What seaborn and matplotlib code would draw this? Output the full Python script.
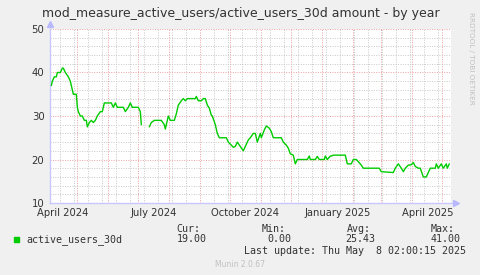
import numpy as np
import pandas as pd
import matplotlib
matplotlib.use("Agg")
import matplotlib.pyplot as plt
import matplotlib.dates as mdates
from matplotlib.ticker import MultipleLocator, FixedLocator
import matplotlib.transforms as mtransforms
import seaborn as sns

# ---------------- data ----------------
dates = [
    "2024-04-05", "2024-04-06", "2024-04-08", "2024-04-10", "2024-04-11", "2024-04-14",
    "2024-04-16", "2024-04-17", "2024-04-19", "2024-04-22", "2024-04-24", "2024-04-25",
    "2024-04-27", "2024-04-30", "2024-05-01", "2024-05-02", "2024-05-04", "2024-05-06",
    "2024-05-08", "2024-05-10", "2024-05-11", "2024-05-13", "2024-05-15", "2024-05-17",
    "2024-05-19", "2024-05-21", "2024-05-24", "2024-05-26", "2024-05-28", "2024-06-04",
    "2024-06-06", "2024-06-08", "2024-06-10", "2024-06-16", "2024-06-18", "2024-06-21",
    "2024-06-23", "2024-06-25", "2024-07-01", "2024-07-03", "2024-07-04", "2024-07-05",
    "2024-07-12", "2024-07-14", "2024-07-17", "2024-07-24", "2024-07-27", "2024-07-28",
    "2024-07-31", "2024-08-02", "2024-08-06", "2024-08-08", "2024-08-10", "2024-08-13",
    "2024-08-15", "2024-08-17", "2024-08-19", "2024-08-27", "2024-08-28", "2024-08-30",
    "2024-09-02", "2024-09-04", "2024-09-06", "2024-09-08", "2024-09-10", "2024-09-12",
    "2024-09-13", "2024-09-16", "2024-09-18", "2024-09-20", "2024-09-27", "2024-09-29",
    "2024-10-02", "2024-10-04", "2024-10-06", "2024-10-08", "2024-10-11", "2024-10-14",
    "2024-10-16", "2024-10-19", "2024-10-21", "2024-10-24", "2024-10-26", "2024-10-28",
    "2024-10-31", "2024-11-01", "2024-11-04", "2024-11-06", "2024-11-09", "2024-11-11",
    "2024-11-13", "2024-11-21", "2024-11-23", "2024-11-26", "2024-11-28", "2024-11-30",
    "2024-12-03", "2024-12-05", "2024-12-07", "2024-12-17", "2024-12-19", "2024-12-20",
    "2024-12-25", "2024-12-27", "2024-12-29", "2025-01-03", "2025-01-04", "2025-01-06",
    "2025-01-09", "2025-01-10", "2025-01-12", "2025-01-24", "2025-01-26", "2025-01-30",
    "2025-02-01", "2025-02-04", "2025-02-06", "2025-02-09", "2025-02-11", "2025-02-27",
    "2025-03-01", "2025-03-13", "2025-03-15", "2025-03-18", "2025-03-21", "2025-03-23",
    "2025-03-25", "2025-03-28", "2025-03-31", "2025-04-02", "2025-04-04", "2025-04-07",
    "2025-04-09", "2025-04-12", "2025-04-15", "2025-04-19", "2025-04-24", "2025-04-25",
    "2025-04-27", "2025-04-30", "2025-05-02", "2025-05-05", "2025-05-06", "2025-05-08",
]
active_users_30d = [
    37, 38, 39, 39, 40, 40,
    41, 41, 40, 39, 38, 37,
    35, 35, 32, 31, 30, 30,
    29, 29, 27.5, 28.5, 29, 28.5,
    29, 30, 31, 31, 33, 33,
    32, 33, 32, 32, 31, 32,
    33, 32, 32, 31, 28, np.nan,
    27.5, 28.5, 29, 29, 28, 27,
    30, 29, 29, 30.5, 32.5, 33.5,
    34, 33.5, 34, 34, 34.5, 33.5,
    33.5, 34, 34, 32.5, 31.8, 30.2,
    30, 28, 26, 25, 25, 24,
    23.3, 22.8, 23, 24, 23, 22,
    23, 24.5, 25, 26, 26, 24,
    26, 25, 26.8, 27.7, 27.2, 26.4,
    25, 25, 24, 23.3, 22.6, 21.3,
    21, 19, 20, 20, 20.8, 20,
    20, 20.7, 20, 20, 20.8, 20,
    20.8, 20.8, 21, 21, 19, 19,
    20, 20, 19.5, 18.7, 18, 18,
    17.2, 17, 18, 19, 18, 17.2,
    18, 18.7, 18.8, 19.3, 18.4, 18,
    18, 16, 16, 18, 18, 19,
    18, 19, 18, 19, 18, 19,
]
series_name = "active_users_30d"
quarter_labels = ["April 2024", "July 2024", "October 2024", "January 2025", "April 2025"]
quarter_label_dates = ["2024-04-16", "2024-07-16", "2024-10-16", "2025-01-16", "2025-04-16"]
y_ticks = [10, 20, 30, 40, 50]
stats_headers = ["Cur:", "Min:", "Avg:", "Max:"]
stats_values = ["19.00", "0.00", "25.43", "41.00"]
title = "mod_measure_active_users/active_users_30d amount - by year"
last_update = "Last update: Thu May  8 02:00:15 2025"

# ---------------- figure ----------------
sns.set_style("white")
plt.rcParams["font.family"] = ["DejaVu Sans"]

W, H = 481, 275
BG = "#F0F0F0"
fig = plt.figure(figsize=(W / 100, H / 100), dpi=100, facecolor=BG)
L, R, T, B = 50, 451.5, 29, 203
ax = fig.add_axes([L / W, 1 - B / H, (R - L) / W, (B - T) / H])
ax.set_facecolor("white")

df = pd.DataFrame({"date": pd.to_datetime(dates), "value": active_users_30d})
df["seg"] = df["value"].isna().cumsum()
df = df.dropna()
sns.lineplot(data=df, x="date", y="value", units="seg", estimator=None,
             color="#00CC00", linewidth=1.0, ax=ax, zorder=5)

ax.set_xlim(pd.Timestamp("2024-04-03 16:00"), pd.Timestamp("2025-05-10 05:00"))
ax.set_ylim(10, 50)
ax.set_xlabel("")
ax.set_ylabel("")

# grid
ax.yaxis.set_major_locator(FixedLocator(y_ticks))
ax.yaxis.set_minor_locator(MultipleLocator(2))
ax.xaxis.set_major_locator(mdates.MonthLocator())
ax.xaxis.set_minor_locator(
    FixedLocator(mdates.date2num(pd.date_range("2024-03-31", "2025-05-20", freq="14D"))))
ax.grid(which="minor", color="#C8C8C8", linestyle=(0, (1, 1.5)), linewidth=0.7, zorder=1)
ax.grid(which="major", color="#F0A0A0", linestyle=(0, (1, 1.5)), linewidth=0.7, zorder=2)
ax.set_axisbelow(True)

ax.tick_params(axis="x", which="both", length=0, labelbottom=False)
ax.tick_params(axis="y", which="both", length=0, labelsize=7.3, labelcolor="#333333", pad=4)
ax.set_yticklabels([str(v) for v in y_ticks])

for s in ["top", "right"]:
    ax.spines[s].set_visible(False)
for s in ["left", "bottom"]:
    ax.spines[s].set_color("#C8C8FF")
    ax.spines[s].set_linewidth(1.0)
ax.plot([0], [1.03], marker="^", color="#B8B8FF", markersize=4, transform=ax.transAxes, clip_on=False)
ax.plot([1.012], [0], marker=">", color="#B8B8FF", markersize=4, transform=ax.transAxes, clip_on=False)

trans = mtransforms.blended_transform_factory(ax.transData, ax.transAxes)
for lab, d in zip(quarter_labels, quarter_label_dates):
    ax.text(mdates.date2num(pd.Timestamp(d)), -0.058, lab, transform=trans, ha="center", va="center",
            fontsize=7.2, color="#333333")

# title
fig.text(0.5, 1 - 14 / H, title, ha="center", va="center", fontsize=9.0, color="#333333")
# side text
fig.text(471 / W, 1 - 58 / H, "RRDTOOL / TOBI OETIKER", rotation=270, ha="center", va="center",
         fontsize=5.2, color="#C0C0C0")

# legend
mono = "DejaVu Sans Mono"
fig.patches.append(plt.Rectangle((14 / W, 1 - 242 / H), 5 / W, 5 / H, transform=fig.transFigure,
                                 color="#00CC00", figure=fig))
fig.text(26 / W, 1 - 239.5 / H, series_name, family=mono, fontsize=7.2, color="#333333", va="center")
col_x = [176.7, 261.7, 346.7, 431]
val_x = [206.7, 291.7, 375.7, 460.7]
for cx, vx, hd, vv in zip(col_x, val_x, stats_headers, stats_values):
    fig.text(cx / W, 1 - 228.5 / H, hd, family=mono, fontsize=7.2, color="#333333", va="center")
    fig.text(vx / W, 1 - 239.5 / H, vv, family=mono, fontsize=7.2, color="#333333", va="center", ha="right")
fig.text(466 / W, 1 - 251.5 / H, last_update, family=mono, fontsize=7.2, color="#333333", va="center", ha="right")
fig.text(240 / W, 1 - 264.5 / H, "Munin 2.0.67", fontsize=5.5, color="#C0C0C0", ha="center", va="center")

fig.savefig("out.png", dpi=100, facecolor=BG)
